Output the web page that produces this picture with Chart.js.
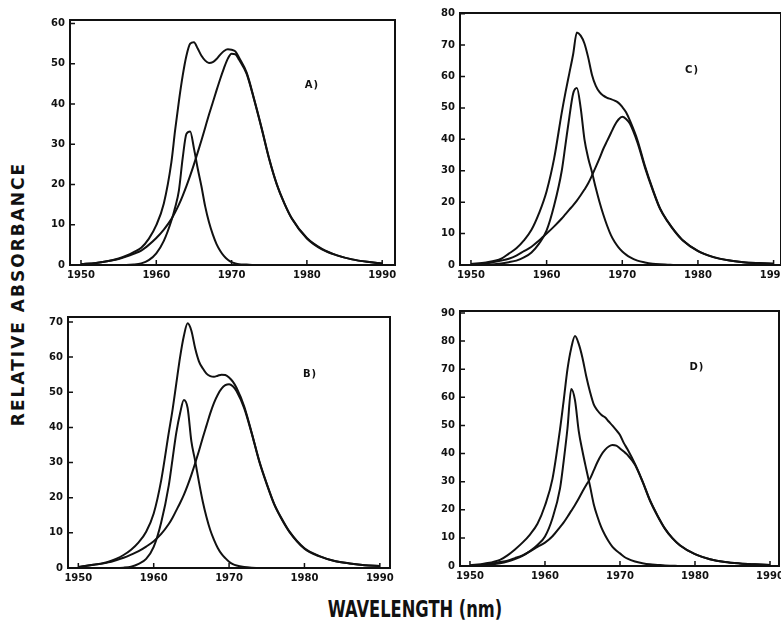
<!DOCTYPE html>
<html>
<head>
<meta charset="utf-8">
<script src="https://cdn.jsdelivr.net/npm/chart.js@4"></script>
<style>
  html, body { margin: 0; padding: 0; background: #fff; overflow: hidden; }
  #page { position: relative; width: 781px; height: 624px; overflow: hidden; background: #fff; }
  .panel { position: absolute; }
  .tag { position: absolute; font: bold 10px "DejaVu Sans"; letter-spacing: 1px; color: #111; transform: translate(-50%, -50%); }
  .ylabel { position: absolute; left: 18px; top: 294px; font: bold 17px "DejaVu Sans"; letter-spacing: 2px; color: #111; white-space: nowrap; transform: translate(-50%, -50%) rotate(-90deg); }
  .xlabel { position: absolute; left: 415px; top: 609px; font: bold 16.3px "DejaVu Sans"; color: #111; white-space: nowrap; transform: translate(-50%, -50%) scaleY(1.43); }
</style>
</head>
<body>
<div id="page"></div>
<script>
// wavelength grid (nm) shared by all four panels
const wavelengths = [1950, 1952, 1954, 1955, 1956, 1957, 1958, 1959, 1960, 1961,
  1962, 1962.5, 1963, 1963.5, 1964, 1964.5, 1965, 1965.5, 1966, 1966.5, 1967, 1967.5,
  1968, 1968.5, 1969, 1969.5, 1970, 1970.5, 1971,
  1972, 1973, 1974, 1975, 1976, 1977, 1978,
  1980, 1982, 1984, 1986, 1988, 1990];

const xTickValues = [1950, 1960, 1970, 1980, 1990];
const yTicksA = [0, 10, 20, 30, 40, 50, 60];
const yTicksB = [0, 10, 20, 30, 40, 50, 60, 70];
const yTicksC = [0, 10, 20, 30, 40, 50, 60, 70, 80];
const yTicksD = [0, 10, 20, 30, 40, 50, 60, 70, 80, 90];

// A)
const totalA = [0.2, 0.5, 1.1, 1.6, 2.3, 3.2, 4.3, 6.5, 9.9, 15.3,
  25.5, 33.5, 40.7, 47, 52, 55, 55.4, 53.8, 52, 50.8, 50.2, 50.4,
  51.2, 52.3, 53.2, 53.6, 53.5, 53.1, 51.5,
  47.8, 41.2, 34, 26.4, 20.1, 15.4, 11.6,
  6.7, 4, 2.4, 1.4, 0.8, 0.4];
const narrowA = [0, 0, 0, 0, 0, 0.1, 0.4, 1.2, 2.9, 6,
  11, 14.3, 18.5, 26.5, 32.6, 33.2, 29, 24, 19.5, 14.5, 10.6, 7.6,
  5.2, 3.5, 2.2, 1.3, 0.7, 0.4, 0.2,
  0.1, 0, 0, 0, 0, 0, 0,
  0, 0, 0, 0, 0, 0];
const broadA = [0.2, 0.5, 1.1, 1.5, 2.1, 2.8, 3.6, 5, 6.7, 8.8,
  11.4, 13.1, 15, 17.2, 19.6, 22.2, 25, 28, 31, 34.2, 37.4, 40.4,
  43.4, 46.3, 49, 51.3, 52.5, 52.4, 51,
  47.5, 41, 33.8, 26.2, 20, 15.3, 11.5,
  6.6, 3.9, 2.4, 1.4, 0.8, 0.4];

// B)
const totalB = [0.3, 0.9, 1.8, 2.6, 3.7, 5.2, 7.3, 10.3, 15.5, 25,
  38.5, 45, 52.5, 60, 66, 69.6, 67.5, 62.5, 58.8, 56.8, 55.3, 54.6,
  54.4, 54.7, 55, 54.9, 54.2, 53, 51.2,
  46, 38.5, 30.5, 24, 18.2, 14, 10.4,
  5.6, 3.4, 2, 1.3, 0.8, 0.6];
const narrowB = [0, 0, 0, 0, 0.1, 0.4, 1.2, 2.6, 6, 13,
  23.5, 31, 38.5, 44, 47.8, 45.5, 36, 30.5, 24.5, 19, 14.5, 10.8,
  8, 5.7, 4, 2.8, 1.8, 1.1, 0.7,
  0.3, 0.1, 0, 0, 0, 0, 0,
  0, 0, 0, 0, 0, 0];
const broadB = [0.3, 0.9, 1.6, 2.2, 2.9, 3.8, 4.8, 6.1, 7.6, 9.7,
  12.5, 14.3, 16.4, 18.5, 20.8, 23.5, 26.5, 29.8, 33.3, 37, 40.5, 44,
  47, 49.3, 51, 52, 52.3, 51.7, 50.3,
  45.5, 38.3, 30.3, 23.8, 18, 13.8, 10.3,
  5.5, 3.3, 2, 1.3, 0.8, 0.6];

// C)
const totalC = [0.3, 0.8, 2, 3.6, 5.3, 7.8, 11.2, 16.5, 23.5, 34,
  48.5, 55, 61, 67, 74, 73, 70.5, 66, 60.5, 57, 55, 53.9,
  53.2, 52.8, 52.3, 51.6, 50.3, 48.6, 46,
  39.8, 31.5, 24.3, 18, 13.9, 10.6, 7.9,
  4.5, 2.6, 1.5, 0.9, 0.6, 0.4];
const narrowC = [0, 0.1, 0.5, 0.9, 1.4, 2.4, 4, 6.8, 11, 19,
  30, 38.5, 47, 54.5, 56.3, 50, 40, 34, 29.5, 24.5, 20, 16,
  12.5, 9.5, 7.3, 5.6, 4.3, 3.3, 2.5,
  1.4, 0.8, 0.4, 0.2, 0.1, 0, 0,
  0, 0, 0, 0, 0, 0];
const broadC = [0.2, 0.5, 1.4, 2, 3, 4.4, 5.8, 7.8, 10, 12.3,
  14.8, 16.2, 17.6, 19, 20.5, 22.2, 24, 26, 28.5, 31.2, 34, 37,
  39.5, 42, 44.5, 46.3, 47.2, 46.5, 45,
  39, 31, 24, 17.8, 13.8, 10.5, 7.8,
  4.4, 2.5, 1.5, 0.9, 0.6, 0.4];

// D)
const totalD = [0.2, 0.9, 2.2, 3.8, 5.9, 8.3, 11.2, 15, 21.5, 31,
  48.5, 59, 70, 77.5, 81.8, 79, 74, 67.5, 62, 57.5, 55.3, 53.8,
  52.9, 51.4, 49.9, 48.3, 46.6, 43.8, 41.5,
  36.3, 30.2, 23.4, 18, 13.3, 9.9, 7.4,
  4.2, 2.4, 1.4, 0.9, 0.6, 0.35];
const narrowD = [0.1, 0.3, 1, 1.6, 2.5, 3.6, 5.3, 7.5, 10.5, 17,
  27.5, 37.5, 49, 63, 59, 48, 40.8, 34.5, 28.5, 22, 17.5, 13.8,
  11, 8.7, 6.8, 5.5, 4.5, 3.4, 2.6,
  1.6, 1, 0.6, 0.4, 0.2, 0.1, 0,
  0, 0, 0, 0, 0, 0];
const broadD = [0.1, 0.5, 1.4, 1.9, 2.8, 3.8, 5.2, 6.8, 8.3, 10.6,
  13.8, 15.5, 17.5, 19.6, 21.7, 24, 26.5, 28.8, 31, 34, 37, 39.5,
  41.3, 42.5, 43, 42.8, 41.8, 40.7, 39.5,
  36, 30, 23.2, 17.8, 13.2, 9.8, 7.3,
  4.2, 2.4, 1.4, 0.9, 0.6, 0.35];

// plot-area placement of each panel on the page
const panels = [
  { id: 'A', tag: 'A)', box: { l: 70, t: 17, r: 395, b: 265 }, xr: [1948.54, 1991.7], ymax: 60.9, yTicks: yTicksA, tagPos: [312, 84], series: [totalA, narrowA, broadA] },
  { id: 'B', tag: 'B)', box: { l: 68, t: 314, r: 390, b: 568 }, xr: [1948.63, 1991.35], ymax: 71.4, yTicks: yTicksB, tagPos: [310, 373], series: [totalB, narrowB, broadB] },
  { id: 'C', tag: 'C)', box: { l: 460, t: 10, r: 781, b: 265 }, xr: [1948.55, 1990.98], ymax: 80.2, yTicks: yTicksC, tagPos: [692, 69], series: [totalC, narrowC, broadC] },
  { id: 'D', tag: 'D)', box: { l: 460, t: 308, r: 779, b: 566 }, xr: [1948.67, 1991.2], ymax: 90.7, yTicks: yTicksD, tagPos: [697, 366], series: [totalD, narrowD, broadD] }
];

const AXIS_W = 40, AXIS_H = 22, PAD_T = 8, PAD_R = 16;

// box frame plus short inward tick marks, taken from the chart scales
const framePlugin = {
  id: 'frame',
  afterDraw(chart) {
    const { ctx, chartArea: a, scales } = chart;
    ctx.save();
    ctx.strokeStyle = '#111';
    ctx.lineWidth = 2;
    ctx.strokeRect(a.left, a.top, a.right - a.left, a.bottom - a.top);
    ctx.lineWidth = 1.5;
    ctx.beginPath();
    scales.x.ticks.forEach(t => {
      const px = scales.x.getPixelForValue(t.value);
      ctx.moveTo(px, a.bottom);
      ctx.lineTo(px, a.bottom - 5);
    });
    scales.y.ticks.forEach(t => {
      const py = scales.y.getPixelForValue(t.value);
      ctx.moveTo(a.left, py);
      ctx.lineTo(a.left + 5, py);
    });
    ctx.stroke();
    ctx.restore();
  }
};

function toPoints(values) {
  return wavelengths.map((w, i) => ({ x: w, y: values[i] }));
}

function curve(values) {
  return {
    data: toPoints(values),
    borderColor: '#111',
    borderWidth: 2,
    pointRadius: 0,
    cubicInterpolationMode: 'monotone'
  };
}

function buildPanel(p) {
  const page = document.getElementById('page');
  const w = p.box.r - p.box.l, h = p.box.b - p.box.t;
  const holder = document.createElement('div');
  holder.className = 'panel';
  holder.style.left = (p.box.l - AXIS_W) + 'px';
  holder.style.top = (p.box.t - PAD_T) + 'px';
  holder.style.width = (w + AXIS_W + PAD_R) + 'px';
  holder.style.height = (h + PAD_T + AXIS_H) + 'px';
  holder.innerHTML = `<canvas id="chart${p.id}"></canvas>`;
  page.appendChild(holder);

  const tag = document.createElement('div');
  tag.className = 'tag';
  tag.style.left = p.tagPos[0] + 'px';
  tag.style.top = p.tagPos[1] + 'px';
  tag.textContent = p.tag;
  page.appendChild(tag);

  new Chart(document.getElementById('chart' + p.id), {
    type: 'line',
    data: {
      datasets: p.series.map(curve)
    },
    options: {
      responsive: true,
      maintainAspectRatio: false,
      animation: false,
      events: [],
      layout: { padding: { left: 0, top: PAD_T, right: PAD_R, bottom: 0 } },
      plugins: { legend: { display: false }, tooltip: { enabled: false } },
      scales: {
        x: {
          type: 'linear',
          min: p.xr[0],
          max: p.xr[1],
          grid: { display: false, drawTicks: false },
          border: { display: false },
          afterBuildTicks: s => { s.ticks = xTickValues.map(v => ({ value: v })); },
          afterFit: s => { s.height = AXIS_H; },
          ticks: { padding: 4, autoSkip: false, maxRotation: 0, color: '#111', font: { family: 'DejaVu Sans', size: 10, weight: 'bold' }, callback: v => String(v) }
        },
        y: {
          min: 0,
          max: p.ymax,
          grid: { display: false, drawTicks: false },
          border: { display: false },
          afterBuildTicks: s => { s.ticks = p.yTicks.map(v => ({ value: v })); },
          afterFit: s => { s.width = AXIS_W; },
          ticks: { padding: 5, color: '#111', font: { family: 'DejaVu Sans', size: 10, weight: 'bold' } }
        }
      }
    },
    plugins: [framePlugin]
  });
}

panels.forEach(buildPanel);

const page = document.getElementById('page');
page.insertAdjacentHTML('beforeend', `
  <div class="ylabel">RELATIVE ABSORBANCE</div>
  <div class="xlabel">WAVELENGTH (nm)</div>
`);
</script>
</body>
</html>
